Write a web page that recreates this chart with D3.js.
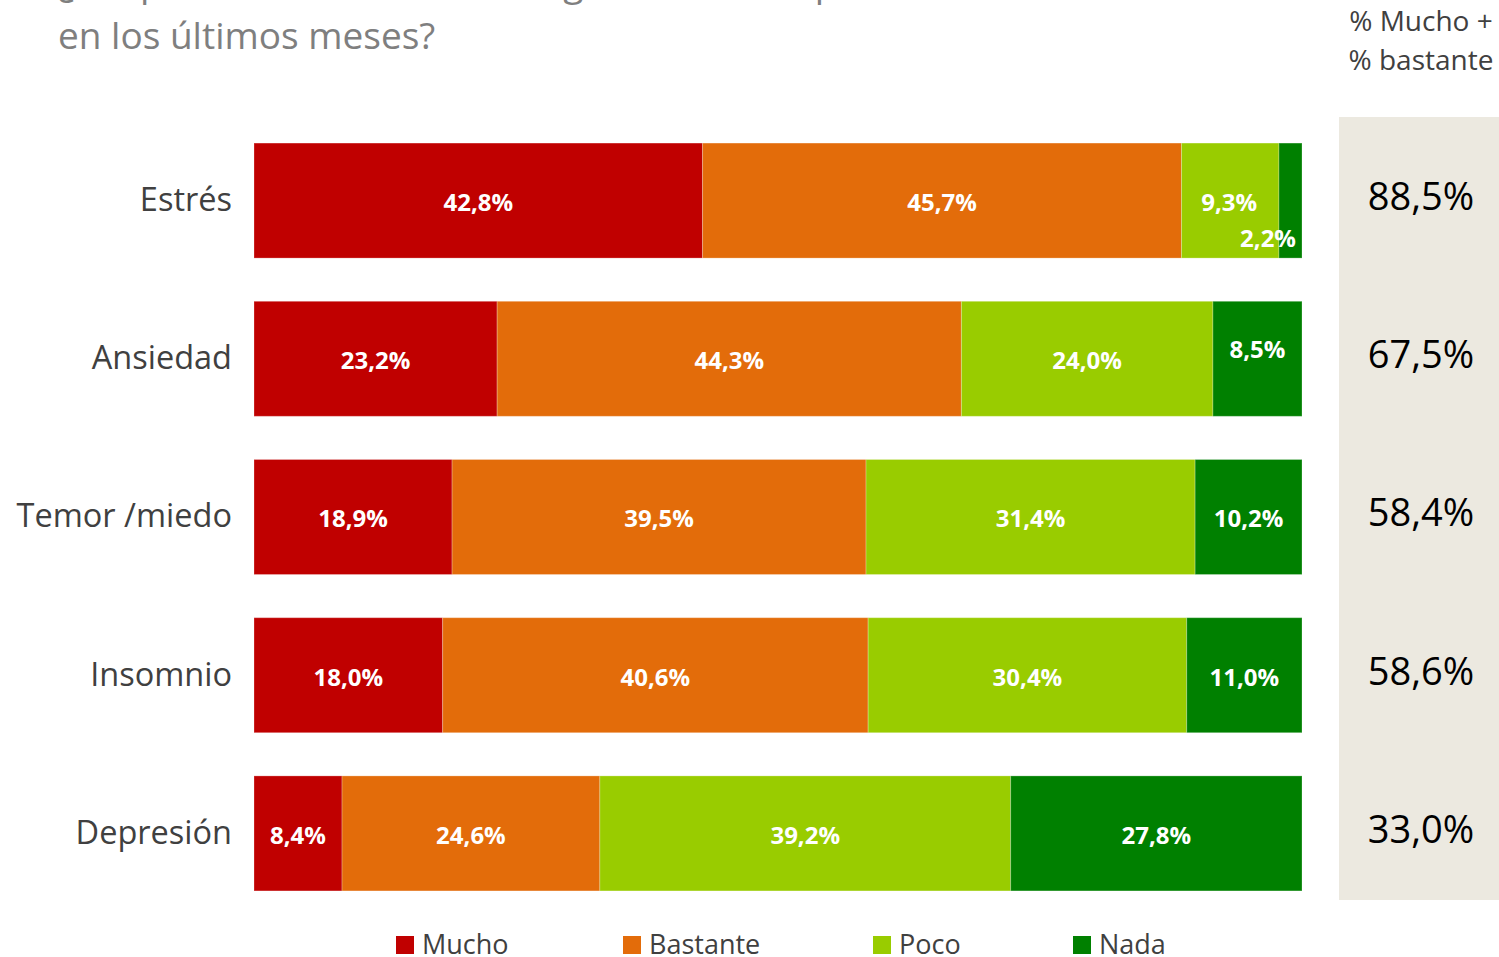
<!DOCTYPE html>
<html>
<head>
<meta charset="utf-8">
<script src="https://cdn.jsdelivr.net/npm/d3@7"></script>
<style>
  body { margin: 0; background: #fff; overflow: hidden; }
  text { font-family: "Open Sans", "Noto Sans", sans-serif; }
</style>
</head>
<body>
<script>
// Width and height of svg
var w = 1499;
var h = 957;

// data
var categories = ["Estrés", "Ansiedad", "Temor /miedo", "Insomnio", "Depresión"];
var seriesNames = ["Mucho", "Bastante", "Poco", "Nada"];
var mucho    = [42.8, 23.2, 18.9, 18.0, 8.4];
var bastante = [45.7, 44.3, 39.5, 40.6, 24.6];
var poco     = [9.3, 24.0, 31.4, 30.4, 39.2];
var nada     = [2.2, 8.5, 10.2, 11.0, 27.8];
var totals   = [88.5, 67.5, 58.4, 58.6, 33.0];
var colors   = ["#C00000", "#E36C0A", "#99CC00", "#008000"];

var fmt = function(v) { return v.toFixed(1).replace(".", ",") + "%"; };

//Create SVG element
var svg = d3.select("body")
        .append("svg")
        .attr("width", w)
        .attr("height", h);

// build rows for the stack
var rows = categories.map(function(c, i) {
  return { cat: c, Mucho: mucho[i], Bastante: bastante[i], Poco: poco[i], Nada: nada[i] };
});
var stacked = d3.stack().keys(seriesNames)(rows);

var x = d3.scaleLinear().domain([0, 100]).range([254, 1302]);
var y = d3.scaleBand().domain(categories).range([121.4, 912.6]).paddingInner(0.273).paddingOuter(0.137);
var color = d3.scaleOrdinal().domain(seriesNames).range(colors);

// title (first line falls outside the top of the picture)
svg.append("text")
   .attr("x", 58).attr("y", -4)
   .attr("fill", "#7F7F7F").attr("font-size", 37)
   .text("¿En qué medida ha sentido alguno de estos problemas");
svg.append("text")
   .attr("x", 58).attr("y", 49)
   .attr("fill", "#7F7F7F").attr("font-size", 37)
   .text("en los últimos meses?");

// beige panel on the right
svg.append("rect")
   .attr("x", 1339).attr("y", 117)
   .attr("width", 170).attr("height", 783)
   .attr("fill", "#ECE9E0");

// header of the panel
svg.append("text")
   .attr("x", 1421).attr("y", 31)
   .attr("text-anchor", "middle").attr("fill", "#404040").attr("font-size", 28)
   .text("% Mucho +");
svg.append("text")
   .attr("x", 1421).attr("y", 70)
   .attr("text-anchor", "middle").attr("fill", "#404040").attr("font-size", 28)
   .text("% bastante");

// the bars
var layers = svg.selectAll("g.layer")
   .data(stacked)
   .enter().append("g")
   .attr("class", "layer")
   .attr("fill", function(d) { return color(d.key); });

layers.selectAll("rect")
   .data(function(d) { return d; })
   .enter().append("rect")
   .attr("x", function(d) { return x(d[0]); })
   .attr("y", function(d) { return y(d.data.cat); })
   .attr("width", function(d) { return x(d[1]) - x(d[0]); })
   .attr("height", y.bandwidth())
   .attr("stroke", "rgba(255,255,255,0.25)")
   .attr("stroke-width", 1);

// segment labels
layers.selectAll("text")
   .data(function(d) { return d.map(function(p) { p.key = d.key; return p; }); })
   .enter().append("text")
   .attr("x", function(d) {
     var cx = (x(d[0]) + x(d[1])) / 2;
     if (d.data.cat == "Estrés" && d.key == "Nada") return x(d[1]) - 6; // small segment, pushed left
     if (d.data.cat == "Estrés" && d.key == "Poco") return cx - 1;
     return cx;
   })
   .attr("y", function(d) {
     var cy = y(d.data.cat) + y.bandwidth() / 2 + 2;
     if (d.data.cat == "Estrés" && d.key == "Nada") return cy + 36;
     if (d.data.cat == "Ansiedad" && d.key == "Nada") return cy - 11;
     return cy;
   })
   .attr("dy", "0.35em")
   .attr("text-anchor", function(d) {
     return (d.data.cat == "Estrés" && d.key == "Nada") ? "end" : "middle";
   })
   .attr("fill", "#fff")
   .attr("font-weight", "bold")
   .attr("font-size", 24)
   .text(function(d) { return fmt(d[1] - d[0]); });

// category labels
svg.selectAll("text.cat")
   .data(categories)
   .enter().append("text")
   .attr("class", "cat")
   .attr("x", 232)
   .attr("y", function(d) { return y(d) + y.bandwidth() / 2 - 1; })
   .attr("dy", "0.35em")
   .attr("text-anchor", "end")
   .attr("fill", "#404040")
   .attr("font-size", 32.5)
   .text(function(d) { return d; });

// totals in the panel
svg.selectAll("text.total")
   .data(totals)
   .enter().append("text")
   .attr("class", "total")
   .attr("x", 1421)
   .attr("y", function(d, i) { return y(categories[i]) + y.bandwidth() / 2 - 4; })
   .attr("dy", "0.35em")
   .attr("text-anchor", "middle")
   .attr("fill", "#000")
   .attr("font-size", 38)
   .text(function(d) { return fmt(d); });

// legend
var legendX = [396, 623, 873, 1073];
var lg = svg.selectAll("g.legend")
   .data(seriesNames)
   .enter().append("g")
   .attr("class", "legend")
   .attr("transform", function(d, i) { return "translate(" + legendX[i] + ",936)"; });
lg.append("rect")
   .attr("width", 18).attr("height", 18)
   .attr("fill", function(d) { return color(d); });
lg.append("text")
   .attr("x", 26).attr("y", 18)
   .attr("fill", "#404040")
   .attr("font-size", 27)
   .text(function(d) { return d; });
</script>
</body>
</html>
